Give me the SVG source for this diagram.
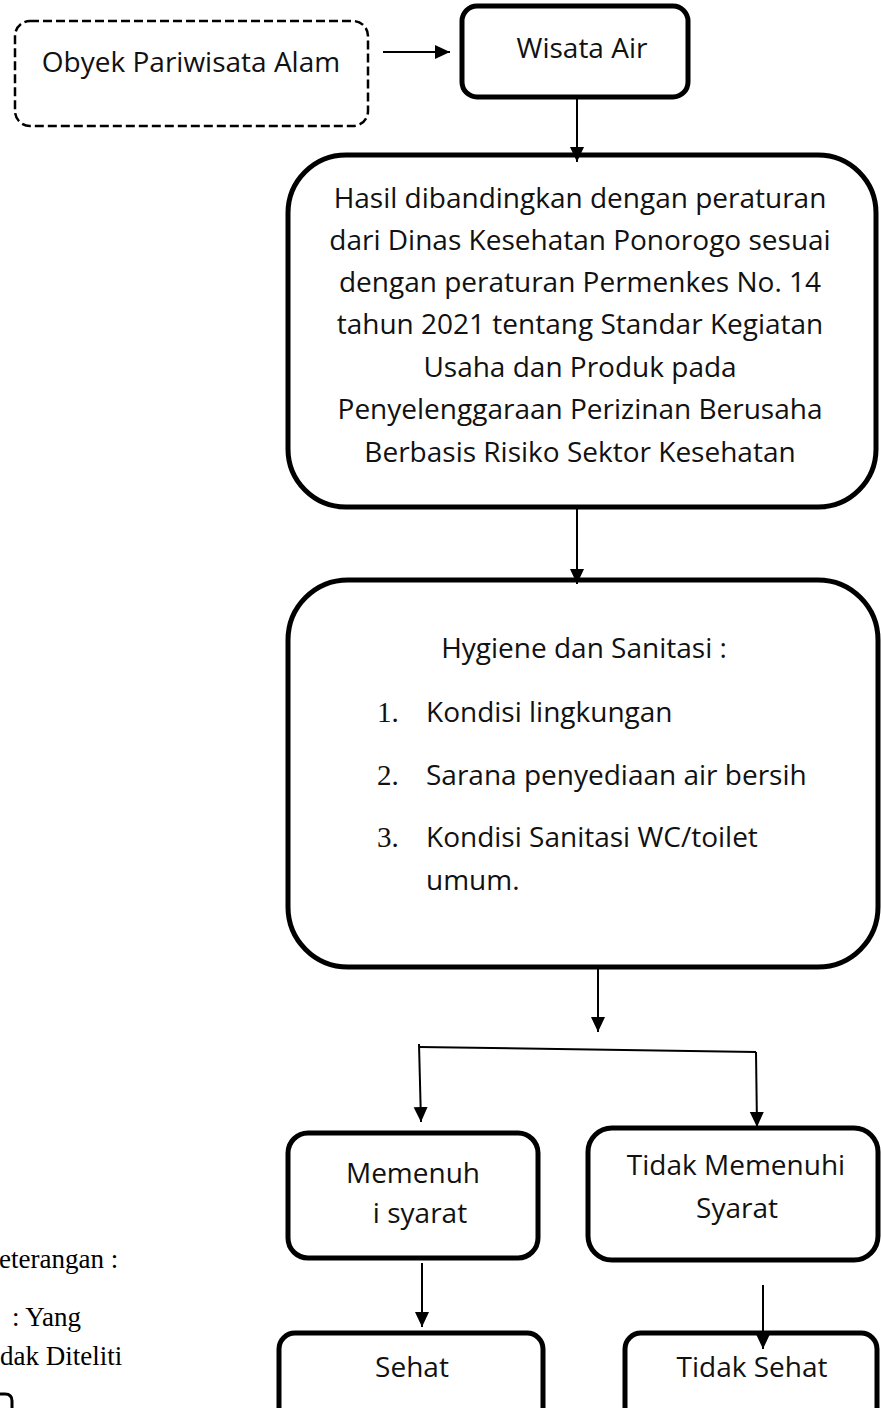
<svg xmlns="http://www.w3.org/2000/svg" width="881" height="1408" viewBox="0 0 881 1408">
<defs>
<style>
.box{fill:#fff;stroke:#000;stroke-width:5}
.dash{fill:#fff;stroke:#000;stroke-width:2.5;stroke-dasharray:9 4}
.t{font-family:"Open Sans","Noto Sans",sans-serif;font-size:28px;fill:#111}
.c{text-anchor:middle}
.n{font-family:"Liberation Serif",serif;font-size:29px;fill:#111}
.lg{font-family:"Liberation Serif",serif;font-size:27px;fill:#000}
.ln{fill:none;stroke:#000;stroke-width:2}
</style>
<marker id="ahd" markerWidth="16" markerHeight="16" refX="15" refY="7" orient="auto" markerUnits="userSpaceOnUse">
<path d="M0,0 L15,7 L0,14 Z" fill="#000"/>
</marker>
</defs>

<g id="obyek">
<rect class="dash" x="15" y="21" width="353" height="105" rx="15"/>
<text class="t c" x="191" y="72">Obyek Pariwisata Alam</text>
</g>

<g id="wisata">
<rect class="box" x="462" y="6" width="226" height="91" rx="15" stroke-width="4.5"/>
<text class="t c" x="582" y="58">Wisata Air</text>
</g>

<g id="hasil">
<rect class="box" x="288" y="155" width="588" height="352" rx="58"/>
<text class="t c" x="580" y="208">Hasil dibandingkan dengan peraturan</text>
<text class="t c" x="580" y="250">dari Dinas Kesehatan Ponorogo sesuai</text>
<text class="t c" x="580" y="292">dengan peraturan Permenkes No. 14</text>
<text class="t c" x="580" y="334">tahun 2021 tentang Standar Kegiatan</text>
<text class="t c" x="580" y="377">Usaha dan Produk pada</text>
<text class="t c" x="580" y="419">Penyelenggaraan Perizinan Berusaha</text>
<text class="t c" x="580" y="462">Berbasis Risiko Sektor Kesehatan</text>
</g>

<g id="hygiene">
<rect class="box" x="288" y="580" width="590" height="387" rx="60"/>
<text class="t c" x="584" y="658">Hygiene dan Sanitasi :</text>
<text class="n" x="377" y="722">1.</text>
<text class="t" x="426" y="722">Kondisi lingkungan</text>
<text class="n" x="377" y="785">2.</text>
<text class="t" x="426" y="785">Sarana penyediaan air bersih</text>
<text class="n" x="377" y="847">3.</text>
<text class="t" x="426" y="847">Kondisi Sanitasi WC/toilet</text>
<text class="t" x="426" y="890">umum.</text>
</g>

<g id="memenuhi">
<rect class="box" x="288" y="1133" width="250" height="125" rx="20" stroke-width="5.5"/>
<text class="t c" x="413" y="1183">Memenuh</text>
<text class="t c" x="420" y="1223">i syarat</text>
</g>

<g id="tidak-memenuhi">
<rect class="box" x="588" y="1128" width="290" height="132" rx="24" stroke-width="5.5"/>
<text class="t c" x="736" y="1175">Tidak Memenuhi</text>
<text class="t c" x="737" y="1218">Syarat</text>
</g>

<g id="sehat">
<rect class="box" x="279" y="1333" width="264" height="110" rx="16" stroke-width="5.5"/>
<text class="t c" x="412" y="1377">Sehat</text>
</g>

<g id="tidak-sehat">
<rect class="box" x="625" y="1333" width="252" height="110" rx="16" stroke-width="5.5"/>
<text class="t c" x="752" y="1377">Tidak Sehat</text>
</g>

<g id="connectors">
<line class="ln" x1="383" y1="52" x2="450" y2="52" marker-end="url(#ahd)"/>
<line class="ln" x1="577" y1="97" x2="577" y2="162" marker-end="url(#ahd)"/>
<line class="ln" x1="577" y1="508" x2="577" y2="584" marker-end="url(#ahd)"/>
<line class="ln" x1="598" y1="967" x2="598" y2="1032" marker-end="url(#ahd)"/>
<polyline class="ln" stroke-width="1.6" points="419,1047 756,1052"/>
<line class="ln" x1="419" y1="1044" x2="421" y2="1122" marker-end="url(#ahd)"/>
<line class="ln" x1="756" y1="1052" x2="757" y2="1127" marker-end="url(#ahd)"/>
<line class="ln" x1="422" y1="1263" x2="422" y2="1327" marker-end="url(#ahd)"/>
<line class="ln" x1="763" y1="1285" x2="763" y2="1349" marker-end="url(#ahd)"/>
</g>

<g id="legend">
<text class="lg" x="-1" y="1268">eterangan :</text>
<text class="lg" x="12" y="1326">: Yang</text>
<text class="lg" x="0" y="1365">dak Diteliti</text>
<path d="M0,1394 L5,1394 Q12,1394 12,1401 L12,1410" fill="none" stroke="#000" stroke-width="3"/>
</g>
</svg>
